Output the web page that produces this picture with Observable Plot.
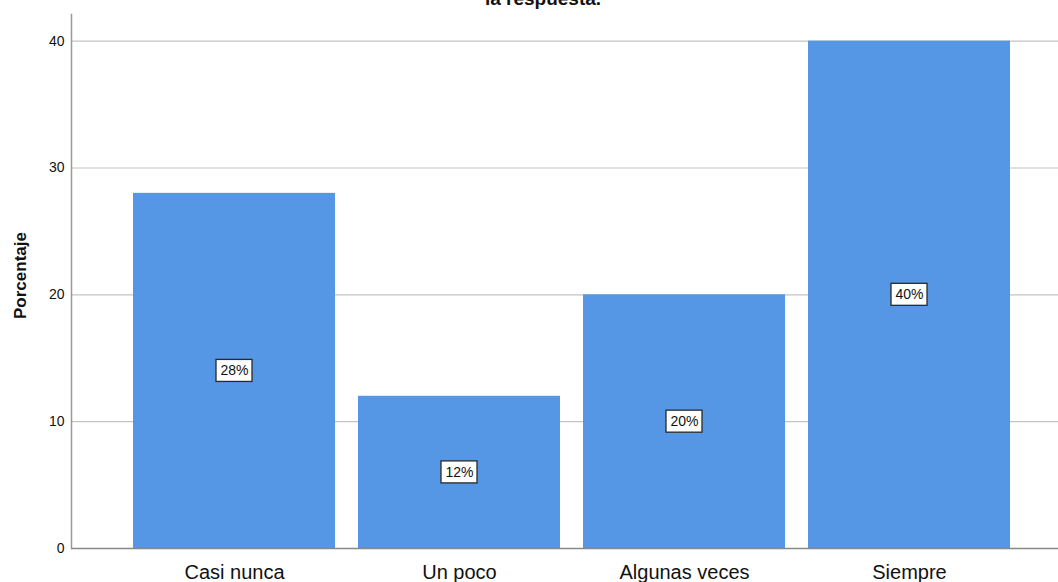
<!DOCTYPE html>
<html>
<head>
<meta charset="utf-8">
<script src="https://cdn.jsdelivr.net/npm/d3@7"></script>
<script src="https://cdn.jsdelivr.net/npm/@observablehq/plot@0.6"></script>
<style>
  html, body { margin: 0; padding: 0; background: #fff; overflow: hidden; }
  #wrap { position: relative; width: 1058px; height: 582px; }
  #title { position: absolute; left: 14px; width: 1058px; top: -11px; line-height: 19px; text-align: center;
           font-family: "Liberation Sans", Arial, sans-serif; font-weight: bold; font-size: 19px; color: #111; }
  svg { display: block; }
</style>
</head>
<body>
<div id="wrap"><div id="title">la respuesta.</div></div>
<script>
const categories = ["Casi nunca", "Un poco", "Algunas veces", "Siempre"];
const percentages = [28, 12, 20, 40];
const valueLabels = ["28%", "12%", "20%", "40%"];
const yTicks = [0, 10, 20, 30, 40];

const data = categories.map((c, i) => ({cat: c, pct: percentages[i], label: valueLabels[i]}));

const font = '"Liberation Sans", Arial, sans-serif';

function boxedLabels(index, scales, values, dims, context, next) {
  const g = next(index, scales, values, dims, context);
  const ns = "http://www.w3.org/2000/svg";
  const bw = scales.x && scales.x.bandwidth != null
    ? (typeof scales.x.bandwidth === "function" ? scales.x.bandwidth() : scales.x.bandwidth) : 0;
  const bg = document.createElementNS(ns, "g");
  for (const i of index) {
    const cx = values.x[i] + bw / 2, cy = values.y[i];
    const w = 36, h = 22;
    const r = document.createElementNS(ns, "rect");
    r.setAttribute("x", cx - w / 2);
    r.setAttribute("y", cy - h / 2);
    r.setAttribute("width", w);
    r.setAttribute("height", h);
    r.setAttribute("fill", "#fff");
    r.setAttribute("stroke", "#2a2a2a");
    r.setAttribute("stroke-width", 1.3);
    bg.appendChild(r);
  }
  const wrapG = document.createElementNS(ns, "g");
  wrapG.appendChild(bg);
  wrapG.appendChild(g);
  return wrapG;
}

const chart = Plot.plot({
  width: 1058,
  height: 582,
  marginLeft: 71,
  marginRight: 0,
  marginTop: 14,
  marginBottom: 34,
  style: {fontFamily: font, background: "#fff"},
  x: {domain: categories, range: [133, 1011], paddingInner: 0.102, paddingOuter: 0, label: null},
  y: {domain: [0, 42.1], label: null},
  marks: [
    Plot.ruleY(yTicks.filter(d => d > 0), {stroke: "#c4c4c4", strokeWidth: 1.2}),
    Plot.barY(data, {x: "cat", y: "pct", fill: "#5596e5"}),
    Plot.ruleY([0], {stroke: "#888", strokeWidth: 1.5}),
    Plot.frame({anchor: "left", stroke: "#999", strokeWidth: 1.5}),
    Plot.axisY({ticks: yTicks, tickSize: 0, tickPadding: 7, fontSize: 14, fill: "#111", label: null}),
    Plot.axisX({tickSize: 0, tickPadding: 16, fontSize: 20, fill: "#111", label: null}),
    Plot.text(["Porcentaje"], {frameAnchor: "left", dx: -51, dy: -6, rotate: -90, textAnchor: "middle", fontSize: 17, fontWeight: "bold", fill: "#111"}),
    Plot.text(data, {x: "cat", y: d => d.pct / 2, text: "label", fontSize: 14, fill: "#111", render: boxedLabels})
  ]
});

document.getElementById("wrap").appendChild(chart);
</script>
</body>
</html>
